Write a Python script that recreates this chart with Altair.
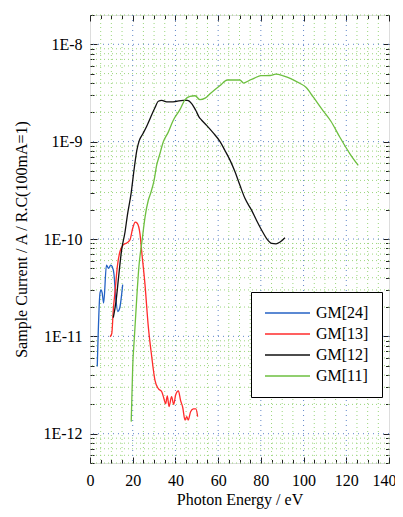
import altair as alt
import pandas as pd

# ---------------- data ----------------
GM24_E = [3.4, 4.7, 5.2, 5.7, 6.4, 7.7, 8.7, 9.7, 10.4, 11.2, 12.0, 13.0, 13.9, 15.3]
GM24_Y = [4.9e-12, 2.8e-11, 3.0e-11, 2.8e-11, 2.2e-11, 5.4e-11, 5.0e-11, 5.4e-11,
          5.2e-11, 4.4e-11, 2.6e-11, 1.8e-11, 1.95e-11, 3.4e-11]

GM13_E = [9.4, 10.2, 10.9, 11.8, 12.8, 14.0, 15.6, 17.2, 18.7, 20.0, 21.2, 22.1, 23.4,
          24.3, 25.7, 27.3, 28.9, 30.4, 32.0, 33.6, 34.6, 35.4, 36.2, 37.0, 38.2, 39.2,
          40.1, 41.4, 42.4, 43.4, 44.5, 45.3, 46.0, 47.1, 48.4, 49.6, 50.4]
GM13_Y = [9.9e-12, 1.07e-11, 1.86e-11, 3.0e-11, 5.2e-11, 7.4e-11, 8.7e-11, 9.1e-11,
          9.8e-11, 1.29e-10, 1.49e-10, 1.45e-10, 1.13e-10, 7.1e-11, 3.5e-11, 1.26e-11,
          6.2e-12, 3.55e-12, 2.9e-12, 2.7e-12, 2.3e-12, 2.03e-12, 2.45e-12, 1.9e-12,
          2.4e-12, 2.0e-12, 2.5e-12, 2.75e-12, 2.2e-12, 1.87e-12, 1.38e-12, 1.5e-12,
          1.38e-12, 1.68e-12, 1.8e-12, 1.8e-12, 1.5e-12]

GM12_E = [10.9, 12.2, 13.3, 14.8, 16.4, 17.5, 19.3, 20.6, 21.9, 23.1, 24.7, 26.5, 28.4,
          30.4, 32.0, 33.6, 35.9, 38.2, 40.6, 43.7, 45.6, 47.6, 49.5, 51.0, 52.3, 54.6,
          57.7, 60.9, 63.2, 65.5, 67.9, 70.2, 72.6, 75.7, 78.0, 80.4, 82.7, 85.1, 87.1,
          89.0, 91.3]
GM12_Y = [1.56e-11, 2.3e-11, 3.9e-11, 7.7e-11, 1.18e-10, 1.75e-10, 3.0e-10, 5.1e-10,
          8.1e-10, 1.03e-9, 1.2e-9, 1.43e-9, 1.78e-9, 2.23e-9, 2.6e-9, 2.65e-9, 2.56e-9,
          2.56e-9, 2.6e-9, 2.65e-9, 2.65e-9, 2.46e-9, 2.1e-9, 1.8e-9, 1.66e-9, 1.47e-9,
          1.23e-9, 1.0e-9, 8.1e-10, 6.5e-10, 4.9e-10, 3.56e-10, 2.6e-10, 1.97e-10,
          1.55e-10, 1.23e-10, 1.01e-10, 9.0e-11, 8.9e-11, 9.3e-11, 1.03e-10]

GM11_E = [19.3, 20.0, 20.8, 21.9, 22.9, 24.4, 25.8, 27.3, 28.5, 30.0, 31.2, 32.5, 34.3,
          36.7, 39.0, 42.1, 44.5, 46.8, 49.2, 51.5, 53.9, 56.2, 60.9, 64.3, 68.6, 70.2,
          71.9, 74.5, 77.0, 80.0, 84.3, 87.0, 90.5, 94.0, 98.0, 101.1, 104.6, 108.5,
          112.8, 117.0, 121.7, 125.6]
GM11_Y = [1.33e-12, 4.9e-12, 9.9e-12, 2.5e-11, 5.2e-11, 9.7e-11, 1.7e-10, 2.5e-10,
          3.0e-10, 4.0e-10, 5.7e-10, 7.2e-10, 9.9e-10, 1.26e-9, 1.66e-9, 2.13e-9, 2.7e-9,
          2.91e-9, 2.96e-9, 2.7e-9, 2.8e-9, 3.1e-9, 3.77e-9, 4.3e-9, 4.3e-9, 4.3e-9,
          4.0e-9, 4.25e-9, 4.5e-9, 4.76e-9, 4.78e-9, 4.95e-9, 4.75e-9, 4.45e-9, 4.0e-9,
          3.62e-9, 2.86e-9, 2.17e-9, 1.62e-9, 1.11e-9, 7.5e-10, 5.7e-10]

SERIES = ["GM[24]", "GM[13]", "GM[12]", "GM[11]"]
COLORS = ["#2462c4", "#ff2b2b", "#111111", "#6dbf3f"]

X_MAJOR = [0, 20, 40, 60, 80, 100, 120, 140]
X_MINOR = [v for v in range(0, 141, 5) if v % 20 != 0]
Y_MAJOR = [1e-12, 1e-11, 1e-10, 1e-9, 1e-8]
Y_MINOR = [m * 10.0 ** e for e in range(-13, -7) for m in range(2, 10)
           if 5e-13 <= m * 10.0 ** e <= 2e-8]
X_GRID_MAJOR = [20, 40, 60, 80, 100, 120]

# ---------------- build table ----------------
frames = []
for name, ex, ey in [("GM[24]", GM24_E, GM24_Y), ("GM[13]", GM13_E, GM13_Y),
                     ("GM[12]", GM12_E, GM12_Y), ("GM[11]", GM11_E, GM11_Y)]:
    frames.append(pd.DataFrame({"E": ex, "I": ey, "series": name, "order": range(len(ex))}))
df = pd.concat(frames, ignore_index=True)

FONT = "Liberation Serif"
W, H = 299, 448

xs = alt.Scale(domain=[0, 140], nice=False, zero=False)
ys = alt.Scale(type="log", domain=[5e-13, 2e-8], nice=False)

# ---------------- grid ----------------
def vgrid(vals, color, dash):
    return alt.Chart(pd.DataFrame({"g": vals})).mark_rule(
        color=color, strokeDash=dash, strokeWidth=1).encode(
        x=alt.X("g:Q", scale=xs, axis=None))

def hgrid(vals, color, dash):
    return alt.Chart(pd.DataFrame({"g": vals})).mark_rule(
        color=color, strokeDash=dash, strokeWidth=1).encode(
        y=alt.Y("g:Q", scale=ys, axis=None))

grid_layers = [
    vgrid(X_MINOR, "#9bd67c", [1, 3]),
    hgrid(Y_MINOR, "#9bd67c", [1, 3]),
    vgrid(X_GRID_MAJOR, "#5f86c8", [1, 4]),
    hgrid(Y_MAJOR, "#5f86c8", [1, 4]),
]

# ---------------- lines ----------------
lines = alt.Chart(df).mark_line(strokeWidth=1.3, interpolate="monotone").encode(
    x=alt.X("E:Q", scale=xs, axis=alt.Axis(
        orient="bottom", values=X_MAJOR, ticks=False, domain=False, grid=False,
        labelPadding=9, labelFlush=False, labelOverlap=False,
        labelOffset={"condition": {"test": "datum.value == 140", "value": -5}, "value": 0},
        labelFont=FONT, labelFontSize=16, labelColor="black",
        title="Photon Energy / eV", titleFont=FONT, titleFontSize=16,
        titleFontWeight="normal", titleColor="black",
        titleBaseline="alphabetic", titleY=41)),
    y=alt.Y("I:Q", scale=ys, axis=alt.Axis(
        orient="left", values=Y_MAJOR, ticks=False, domain=False, grid=False,
        labelPadding=8, labelFlush=False, labelOverlap=False,
        labelExpr="'1E' + round(log(datum.value) / LN10)",
        labelFont=FONT, labelFontSize=16, labelColor="black",
        title="Sample Current / A / R.C(100mA=1)", titleFont=FONT, titleFontSize=16,
        titleFontWeight="normal", titleColor="black", titlePadding=13)),
    color=alt.Color("series:N", scale=alt.Scale(domain=SERIES, range=COLORS),
                    legend=alt.Legend(
                        orient="none", legendX=161, legendY=277, title=None,
                        symbolType="stroke", symbolSize=2025, symbolStrokeWidth=1.5,
                        clipHeight=16, rowPadding=5, labelOffset=5,
                        labelFont=FONT, labelFontSize=16, labelColor="black",
                        fillColor="white", strokeColor="black", padding=13)),
    detail="series:N",
    order="order:Q",
)

# ---------------- inward ticks (axes only) ----------------
def tick_layer(xvals, xorient, xsize, yvals, yorient, ysize):
    return alt.Chart(df).mark_point(opacity=0).encode(
        x=alt.X("E:Q", scale=xs, axis=alt.Axis(
            orient=xorient, values=xvals, offset=-xsize, tickSize=xsize,
            tickColor="#222222", tickWidth=1, labels=False, domain=False,
            grid=False, title=None)),
        y=alt.Y("I:Q", scale=ys, axis=alt.Axis(
            orient=yorient, values=yvals, offset=-ysize, tickSize=ysize,
            tickColor="#222222", tickWidth=1, labels=False, domain=False,
            grid=False, title=None)),
    )

ticks = [
    tick_layer(X_MAJOR, "bottom", 6, Y_MAJOR, "left", 7),
    tick_layer(X_MINOR, "bottom", 3.5, Y_MINOR, "left", 4),
    tick_layer(X_MAJOR, "top", 6, Y_MAJOR, "right", 6),
    tick_layer(X_MINOR, "top", 3.5, Y_MINOR, "right", 3.5),
]

chart = alt.layer(*grid_layers, lines, *ticks).resolve_axis(
    x="independent", y="independent"
).properties(
    width=W, height=H,
    autosize=alt.AutoSizeParams(type="none"),
    padding={"left": 82, "top": 7, "right": 6, "bottom": 46},
).configure_view(stroke="#222222", strokeWidth=1.4).configure(background="white")

chart.save("out.html", embed_options={"renderer": "svg", "actions": False})
